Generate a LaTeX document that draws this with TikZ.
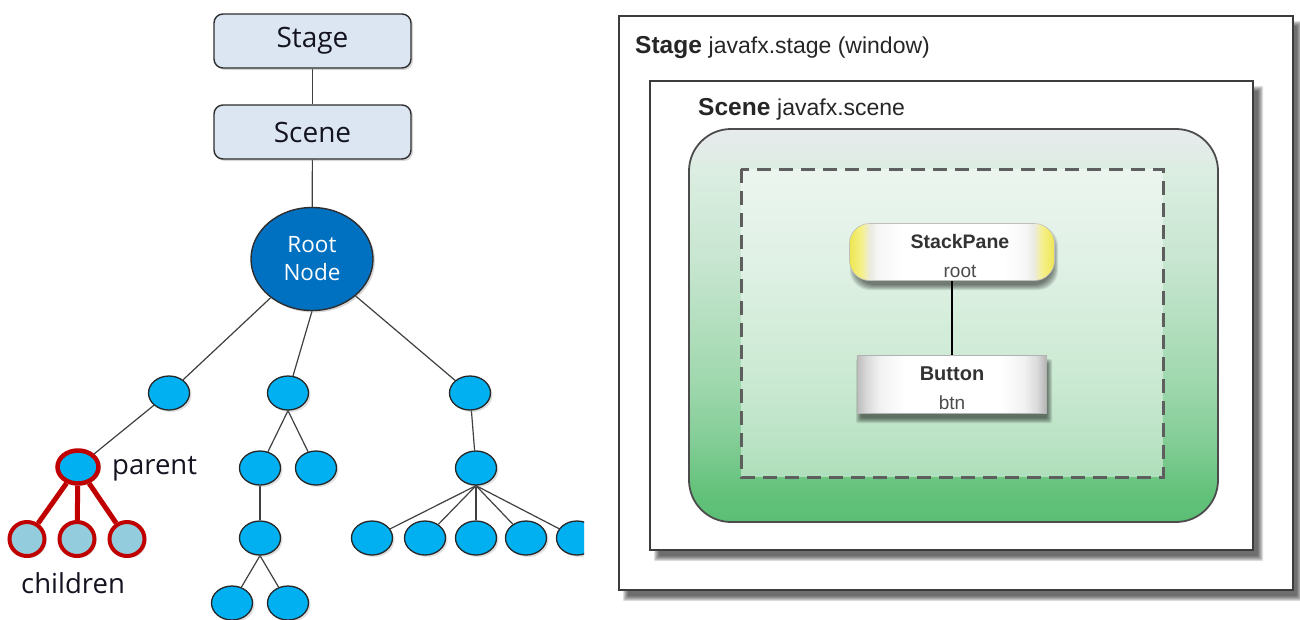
\documentclass[tikz,border=0pt]{standalone}
\usepackage{fontspec}
\usetikzlibrary{shapes.geometric,shadows}
\newfontfamily\treefont{Open Sans}
\newfontfamily\fxfont{Liberation Sans}

% colours of the scene-graph tree
\definecolor{boxfill}{HTML}{DCE6F2}
\definecolor{boxline}{HTML}{2E2E2E}
\definecolor{rootblue}{HTML}{0070C0}
\definecolor{leafblue}{HTML}{00B0F0}
\definecolor{childblue}{HTML}{93CDDD}
\definecolor{markred}{HTML}{C00000}
\definecolor{edgegray}{HTML}{404040}
\definecolor{inktext}{HTML}{141420}
% colours of the window mock-up
\definecolor{frameline}{HTML}{3C3C3C}
\definecolor{dashline}{HTML}{5E5E5E}
\definecolor{gA}{HTML}{5BBE74}
\definecolor{gB}{HTML}{64C27B}
\definecolor{gC}{HTML}{84CD97}
\definecolor{gD}{HTML}{A0D8AE}
\definecolor{gE}{HTML}{C8E6D1}
\definecolor{gF}{HTML}{DCEEE2}
\definecolor{gG}{HTML}{E3EBE8}
\definecolor{gH}{HTML}{E6EBEC}
\definecolor{yA}{HTML}{EDE650}
\definecolor{yB}{HTML}{F5F08C}
\definecolor{yC}{HTML}{EAEAE2}
\definecolor{wA}{HTML}{F6F6F6}
\definecolor{bA}{HTML}{BDBDBD}
\definecolor{bB}{HTML}{DADADA}
\definecolor{bC}{HTML}{F2F2F2}

% pane background: grey-white at the top, green at the bottom
\pgfdeclareverticalshading{greenwash}{100bp}{
  color(0bp)=(gA); color(25bp)=(gA); color(29bp)=(gB); color(35.5bp)=(gC);
  color(43bp)=(gD); color(58.5bp)=(gE); color(70bp)=(gF); color(72.5bp)=(gG);
  color(75bp)=(gH); color(100bp)=(gH)}
% pill with yellow ends
\pgfdeclarehorizontalshading{pillshade}{100bp}{
  color(0bp)=(yA); color(25bp)=(yA); color(28bp)=(yB); color(30bp)=(yC);
  color(32bp)=(wA); color(37.5bp)=(white); color(62.5bp)=(white);
  color(68bp)=(wA); color(70bp)=(yC); color(72bp)=(yB); color(75bp)=(yA);
  color(100bp)=(yA)}
% cylinder-like button face
\pgfdeclarehorizontalshading{btnshade}{100bp}{
  color(0bp)=(bA); color(25bp)=(bA); color(27.5bp)=(bB); color(31bp)=(bC);
  color(37.5bp)=(white); color(62.5bp)=(white); color(69bp)=(bC);
  color(72.5bp)=(bB); color(75bp)=(bA!95!black); color(100bp)=(bA)}

\pgfdeclarelayer{paper}
\pgfdeclarelayer{wires}
\pgfsetlayers{paper,wires,main}

% soft shadow: stacked translucent rectangles
\newcommand{\blurbox}[6]{%
  \foreach \k in {0,1,2,3,4,5}{%
    \fill[black, opacity=#6, rounded corners=#5]
      ({#1-3+\k},{#2-3+\k}) rectangle ({#3+3-\k},{#4+3-\k});
  }}

\tikzset{
  tbox/.style={draw=boxline, line width=1.4pt, fill=boxfill, rounded corners=9pt,
    minimum width=197pt, minimum height=54pt, inner sep=0pt,
    font=\treefont\fontsize{28}{32}\selectfont, text=inktext,
    drop shadow={shadow xshift=2pt, shadow yshift=-2pt, opacity=0.3}},
  rootnode/.style={ellipse, draw=boxline, line width=1.4pt, fill=rootblue,
    minimum width=122pt, minimum height=103pt, inner sep=0pt, text=white,
    align=center, font=\treefont\fontsize{22.5}{28}\selectfont,
    drop shadow={shadow xshift=2pt, shadow yshift=-2pt, opacity=0.3}},
  leaf/.style={ellipse, draw=black!85, line width=1.3pt, fill=leafblue,
    minimum width=41pt, minimum height=34pt, inner sep=0pt,
    drop shadow={shadow xshift=2pt, shadow yshift=-2pt, opacity=0.25}},
  parentnode/.style={leaf, draw=markred, line width=4.5pt,
    minimum width=41pt, minimum height=33pt},
  childnode/.style={leaf, fill=childblue, draw=markred, line width=4pt,
    minimum width=35pt, minimum height=34pt},
  twig/.style={draw=edgegray, line width=1.2pt},
  redtwig/.style={draw=markred, line width=5pt},
  tag/.style={font=\treefont\fontsize{27.5}{32}\selectfont, text=inktext,
    inner sep=0pt, anchor=base west},
  frame/.style={fill=white, draw=frameline, line width=1.8pt},
  caption/.style={anchor=base west, inner sep=0pt, text=black!85},
  pill/.style={shade, shading=pillshade, draw=black!25, line width=0.6pt,
    rounded corners=20pt, minimum width=205pt, minimum height=57pt,
    inner sep=0pt, align=center, text=black!80,
    font=\fxfont\fontsize{19.5}{28.5}\selectfont},
  facebtn/.style={shade, shading=btnshade, draw=black!30, line width=0.6pt,
    minimum width=189pt, minimum height=58pt, inner sep=0pt,
    align=center, text=black!80,
    font=\fxfont\fontsize{20}{28.5}\selectfont}
}

\begin{document}
\begin{tikzpicture}[x=1pt,y=-1pt]
\begin{pgfonlayer}{paper}
  \fill[white] (0,0) rectangle (1300,619);
\end{pgfonlayer}
\useasboundingbox (0,0) rectangle (1300,619);

% ---------------- scene graph tree ----------------
\node[tbox] (stage) at (312.5,41) {Stage};
\node[tbox] (scene) at (312.5,132) {Scene};
\node[rootnode] (root) at (312,259) {Root\\Node};

\begin{scope}
  \clip (0,0) rectangle (584,619);
  \node[leaf] (a1) at (169,393) {};
  \node[leaf] (a2) at (288,393) {};
  \node[leaf] (a3) at (470,393) {};
  \node[parentnode] (par) at (78,467) {};
  \node[childnode] (k1) at (27,539) {};
  \node[childnode] (k2) at (77,539) {};
  \node[childnode] (k3) at (127,539) {};
  \node[leaf] (b1) at (260,468) {};
  \node[leaf] (b2) at (316,468) {};
  \node[leaf] (b3) at (260,538) {};
  \node[leaf] (b4) at (232,603) {};
  \node[leaf] (b5) at (288,603) {};
  \node[leaf] (c1) at (476,468) {};
  \node[leaf] (d1) at (372,538) {};
  \node[leaf] (d2) at (425,538) {};
  \node[leaf] (d3) at (476,538) {};
  \node[leaf] (d4) at (526,538) {};
  \node[leaf] (d5) at (577,538) {};
\end{scope}

\node[tag] (partag) at (112,474) {parent};
\node[tag] (kidtag) at (21,593) {children};

\begin{pgfonlayer}{wires}
  \draw[twig] (stage) -- (scene);
  \draw[twig] (scene) -- (root);
  \draw[twig] (root) -- (a1);
  \draw[twig] (root.south) -- (a2);
  \draw[twig] (root) -- (a3);
  \draw[twig] (a1) -- (par);
  \draw[redtwig] (par) -- (k1);
  \draw[redtwig] (par) -- (k2);
  \draw[redtwig] (par) -- (k3);
  \draw[twig] (a2.south) -- (b1);
  \draw[twig] (a2.south) -- (b2);
  \draw[twig] (b1) -- (b3);
  \draw[twig] (b3.south) -- (b4);
  \draw[twig] (b3.south) -- (b5);
  \draw[twig] (a3) -- (c1);
  \foreach \d in {d1,d2,d3,d4,d5}{\draw[twig] (c1.south) -- (\d);}
\end{pgfonlayer}

% ---------------- window mock-up ----------------
\blurbox{626}{24}{1299}{598}{1pt}{0.13}
\draw[frame] (619,16) rectangle (1293,590);
\node[caption] (stagecap) at (635,53)
  {\fxfont\fontsize{24.5}{28}\selectfont\bfseries Stage\
   \fontsize{23}{28}\selectfont\mdseries javafx.stage (window)};

\blurbox{657}{89}{1260}{558}{1pt}{0.13}
\draw[frame] (650,81) rectangle (1253,550);
\node[caption] (scenecap) at (698,115)
  {\fxfont\fontsize{24.5}{28}\selectfont\bfseries Scene\
   \fontsize{23}{28}\selectfont\mdseries javafx.scene};

\shadedraw[shading=greenwash, draw=black!70, line width=1.8pt, rounded corners=42pt]
  (689,129) rectangle (1218,522);
\fill[white, opacity=0.45] (741,169) rectangle (1163,477);
\draw[dashline, line width=3pt, dash pattern=on 14pt off 8pt] (741,169) rectangle (1163,477);

\blurbox{853}{229}{1055}{287}{20pt}{0.1}
\node[pill] (sp) at (952,252)
  {\rule{0pt}{22pt}\hspace*{16pt}\textbf{StackPane}\\\hspace*{16pt}{\fontsize{19}{28}\selectfont\color{black!70}root}};

\blurbox{859}{362}{1049}{420}{2pt}{0.11}
\node[facebtn] (btn) at (952,384)
  {\rule{0pt}{22pt}\textbf{Button}\\{\fontsize{19}{28}\selectfont\color{black!70}btn}};

\draw[black, line width=2.2pt] (sp.south) -- (btn.north);
\end{tikzpicture}
\end{document}
